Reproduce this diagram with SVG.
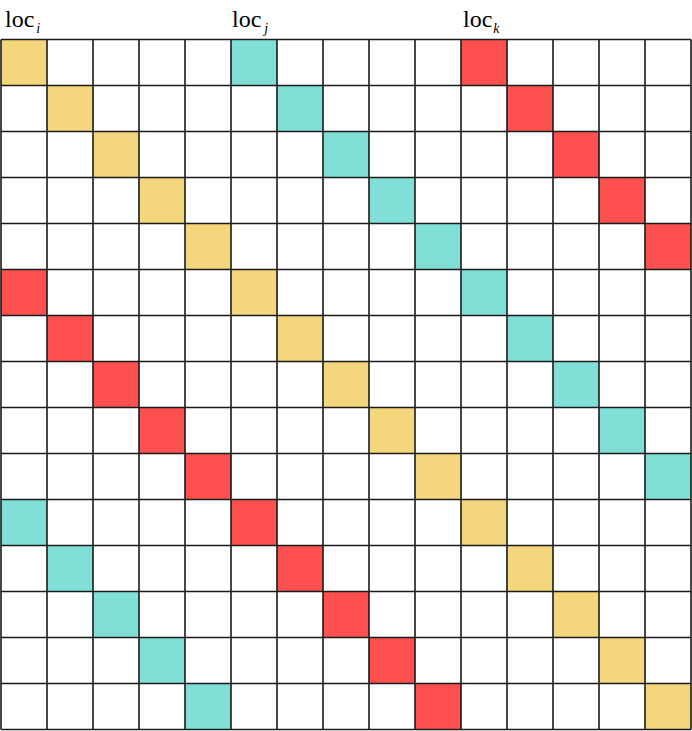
<svg xmlns="http://www.w3.org/2000/svg" width="692" height="731" viewBox="0 0 692 731">
<style>
.y{fill:#F4D77C}.c{fill:#80E0D7}.r{fill:#FF5050}
.grid{stroke:#1a1a1a;stroke-width:1.6;fill:none}
.lbl{font-family:"Liberation Serif","Times New Roman",serif;font-size:24px;fill:#000}
.sub{font-size:14px;font-style:italic}
</style>
<rect width="692" height="731" fill="#fff"/>
<g id="labels">
<text class="lbl" x="5" y="27">loc<tspan class="sub" dx="2" dy="6">i</tspan></text>
<text class="lbl" x="232" y="27">loc<tspan class="sub" dx="3" dy="6">j</tspan></text>
<text class="lbl" x="463" y="27">loc<tspan class="sub" dx="1" dy="6">k</tspan></text>
</g>
<g id="cells" transform="translate(1,39.5)">
<rect class="y" x="0" y="0" width="46" height="46"/><rect class="c" x="230" y="0" width="46" height="46"/><rect class="r" x="460" y="0" width="46" height="46"/>
<rect class="y" x="46" y="46" width="46" height="46"/><rect class="c" x="276" y="46" width="46" height="46"/><rect class="r" x="506" y="46" width="46" height="46"/>
<rect class="y" x="92" y="92" width="46" height="46"/><rect class="c" x="322" y="92" width="46" height="46"/><rect class="r" x="552" y="92" width="46" height="46"/>
<rect class="y" x="138" y="138" width="46" height="46"/><rect class="c" x="368" y="138" width="46" height="46"/><rect class="r" x="598" y="138" width="46" height="46"/>
<rect class="y" x="184" y="184" width="46" height="46"/><rect class="c" x="414" y="184" width="46" height="46"/><rect class="r" x="644" y="184" width="46" height="46"/>
<rect class="r" x="0" y="230" width="46" height="46"/><rect class="y" x="230" y="230" width="46" height="46"/><rect class="c" x="460" y="230" width="46" height="46"/>
<rect class="r" x="46" y="276" width="46" height="46"/><rect class="y" x="276" y="276" width="46" height="46"/><rect class="c" x="506" y="276" width="46" height="46"/>
<rect class="r" x="92" y="322" width="46" height="46"/><rect class="y" x="322" y="322" width="46" height="46"/><rect class="c" x="552" y="322" width="46" height="46"/>
<rect class="r" x="138" y="368" width="46" height="46"/><rect class="y" x="368" y="368" width="46" height="46"/><rect class="c" x="598" y="368" width="46" height="46"/>
<rect class="r" x="184" y="414" width="46" height="46"/><rect class="y" x="414" y="414" width="46" height="46"/><rect class="c" x="644" y="414" width="46" height="46"/>
<rect class="c" x="0" y="460" width="46" height="46"/><rect class="r" x="230" y="460" width="46" height="46"/><rect class="y" x="460" y="460" width="46" height="46"/>
<rect class="c" x="46" y="506" width="46" height="46"/><rect class="r" x="276" y="506" width="46" height="46"/><rect class="y" x="506" y="506" width="46" height="46"/>
<rect class="c" x="92" y="552" width="46" height="46"/><rect class="r" x="322" y="552" width="46" height="46"/><rect class="y" x="552" y="552" width="46" height="46"/>
<rect class="c" x="138" y="598" width="46" height="46"/><rect class="r" x="368" y="598" width="46" height="46"/><rect class="y" x="598" y="598" width="46" height="46"/>
<rect class="c" x="184" y="644" width="46" height="46"/><rect class="r" x="414" y="644" width="46" height="46"/><rect class="y" x="644" y="644" width="46" height="46"/>
</g>
<g id="grid" transform="translate(1,39.5)">
<path class="grid" d="M0 0V690M46 0V690M92 0V690M138 0V690M184 0V690M230 0V690M276 0V690M322 0V690M368 0V690M414 0V690M460 0V690M506 0V690M552 0V690M598 0V690M644 0V690M690 0V690M0 0H690M0 46H690M0 92H690M0 138H690M0 184H690M0 230H690M0 276H690M0 322H690M0 368H690M0 414H690M0 460H690M0 506H690M0 552H690M0 598H690M0 644H690M0 690H690"/>
</g>
</svg>
